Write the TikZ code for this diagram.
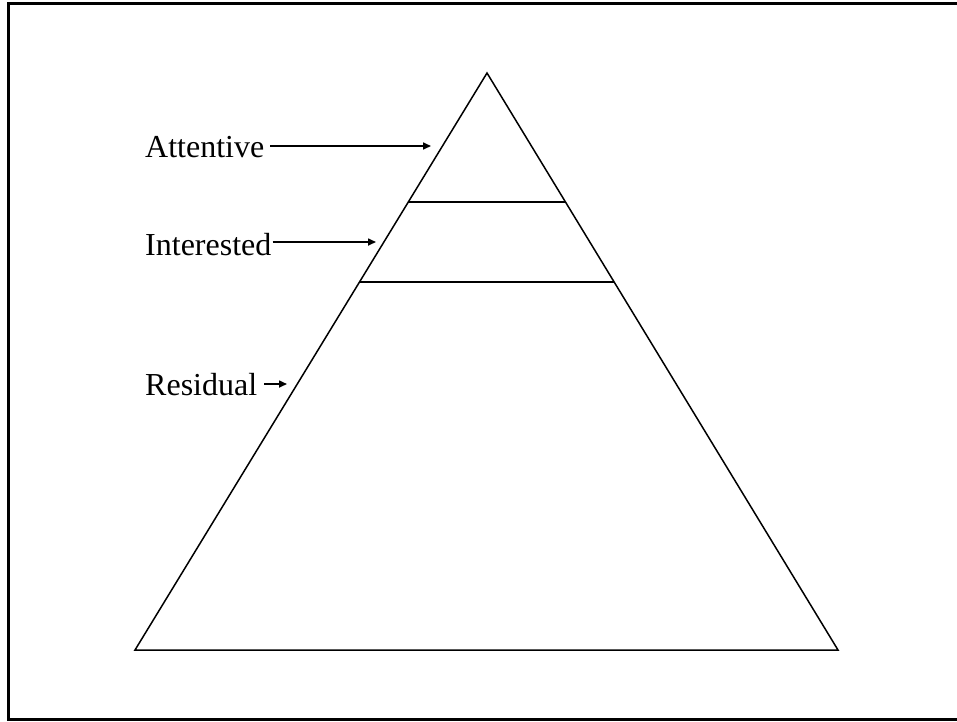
\documentclass[tikz,border=0pt]{standalone}
\usepackage{fontspec}
\setmainfont{Liberation Serif}
\usetikzlibrary{arrows.meta,calc}
\tikzset{
  frameline/.style={line width=3pt},
  edge/.style={line width=1.5pt, line join=miter},
  band/.style={line width=2.4pt},
  label/.style={inner sep=0pt, anchor=base west, font=\fontsize{32}{36}\selectfont},
  pointer/.style={line width=1.6pt, -{Triangle[length=8pt,width=7pt]}}
}
\begin{document}
\begin{tikzpicture}[x=1pt,y=-1pt]
\useasboundingbox (0,0) rectangle (957,721);
% slide frame (right side falls outside the page)
\draw[frameline] (957,3) -- (8,3) -- (8,719) -- (957,719);

% pyramid
\coordinate (apex) at (487,73);
\coordinate (bl) at (135,650);
\coordinate (br) at (838,650);
\draw[edge] (apex) -- (bl) -- (br) -- cycle;

% layer boundaries
\coordinate (l1a) at ($(apex)!0.2236!(bl)$);
\coordinate (l1b) at ($(apex)!0.2236!(br)$);
\coordinate (l2a) at ($(apex)!0.3622!(bl)$);
\coordinate (l2b) at ($(apex)!0.3622!(br)$);
\draw[band] (l1a) -- (l1b);
\draw[band] (l2a) -- (l2b);

% labels and pointers
\node[label] (att) at (145,157) {Attentive};
\node[label] (int) at (145,255) {Interested};
\node[label] (res) at (145,395) {Residual};
\coordinate (attTip) at (431,146);
\coordinate (intTip) at (376,242);
\coordinate (resTip) at (287,384);
\draw[pointer] ([xshift=6pt]att.east |- attTip) -- (attTip);
\draw[pointer] ([xshift=1pt]int.east |- intTip) -- (intTip);
\draw[pointer] ([xshift=7pt]res.east |- resTip) -- (resTip);
\end{tikzpicture}
\end{document}
